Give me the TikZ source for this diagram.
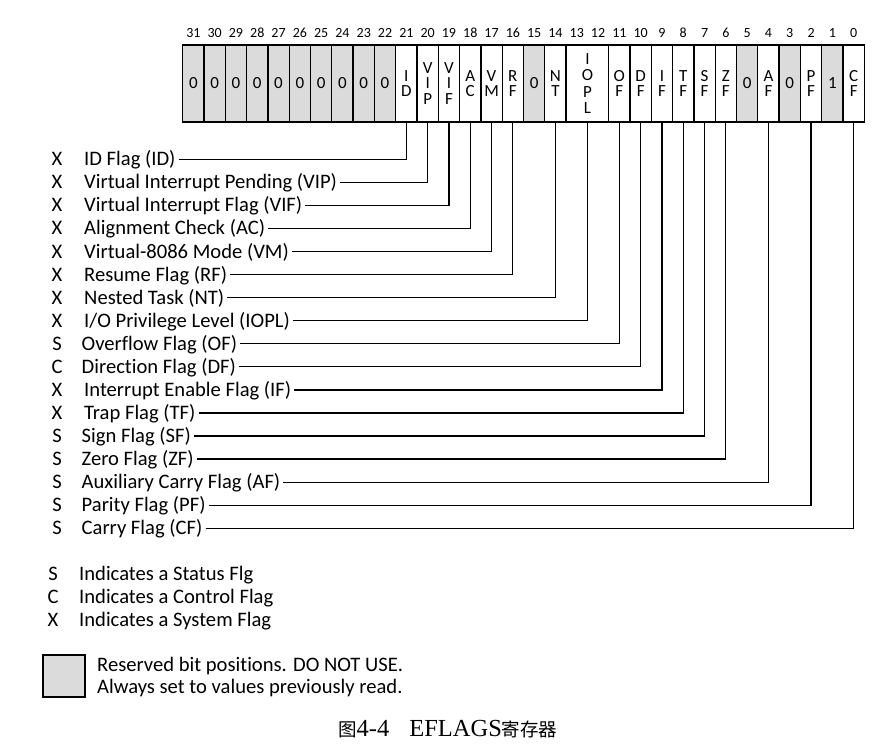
\documentclass[tikz,border=0pt]{standalone}
\usepackage{fontspec}
\setmainfont{Carlito}[Ligatures=NoCommon]
\newfontfamily\cjk{Noto Sans CJK SC}
\newfontfamily\capserif{Liberation Serif}
\begin{document}
\begin{tikzpicture}[x=1pt,y=-1pt,
  cell/.style={draw, line width=1.3pt, minimum width=21.3pt, minimum height=77pt, inner sep=0pt, align=center,
    font=\fontsize{17}{15.5}\selectfont},
  rsv/.style={cell, fill=black!14},
  bitno/.style={font=\fontsize{14}{16}\selectfont, inner sep=0pt, anchor=base},
  desc/.style={anchor=west, font=\fontsize{20.6}{22}\selectfont, inner xsep=3pt, inner ysep=0pt, text height=13pt, text depth=0pt},
  kind/.style={font=\fontsize{20.6}{22}\selectfont, inner sep=0pt, text height=13pt, text depth=0pt},
  conn/.style={line width=1.2pt},
]
\useasboundingbox (0,0) rectangle (878,744);
\def\bw{21.3}
\def\xl{182.7}
% bit numbers
\foreach \b in {0,...,31} {
  \node[bitno] (n\b) at ({\xl+(31-\b+0.5)*\bw}, 37.5) {\b};
}
% reserved cells 31..22
\foreach \b in {31,...,22} {
  \node[rsv] (c\b) at ({\xl+(31-\b+0.5)*\bw}, 83.5) {0};
}
% flag cells
\foreach \b/\t in {21/{I\\D},20/{V\\I\\P},19/{V\\I\\F},18/{A\\C},17/{V\\M},16/{R\\F},14/{N\\T},
  11/{O\\F},10/{D\\F},9/{I\\F},8/{T\\F},7/{S\\F},6/{Z\\F},4/{A\\F},2/{P\\F},0/{C\\F}} {
  \node[cell] (c\b) at ({\xl+(31-\b+0.5)*\bw}, 83.5) {\t};
}
\foreach \b/\t in {15/0,5/0,3/0,1/1} {
  \node[rsv] (c\b) at ({\xl+(31-\b+0.5)*\bw}, 83.5) {\t};
}
\node[cell, minimum width=42.6pt, font=\fontsize{17}{16.5}\selectfont] (iopl) at ({\xl+19*\bw}, 83.5) {I\\O\\P\\L};
% flag descriptions
\foreach \i/\k/\d/\c/\x in {
  0/X/{ID Flag (ID)}/c21/84,
  1/X/{Virtual Interrupt Pending (VIP)}/c20/84,
  2/X/{Virtual Interrupt Flag (VIF)}/c19/84,
  3/X/{Alignment Check (AC)}/c18/84,
  4/X/{Virtual-8086 Mode (VM)}/c17/84,
  5/X/{Resume Flag (RF)}/c16/84,
  6/X/{Nested Task (NT)}/c14/84,
  7/X/{I/O Privilege Level (IOPL)}/iopl/84,
  8/S/{Overflow Flag (OF)}/c11/81.5,
  9/C/{Direction Flag (DF)}/c10/81.5,
  10/X/{Interrupt Enable Flag (IF)}/c9/84,
  11/X/{Trap Flag (TF)}/c8/84,
  12/S/{Sign Flag (SF)}/c7/81.5,
  13/S/{Zero Flag (ZF)}/c6/81.5,
  14/S/{Auxiliary Carry Flag (AF)}/c4/81.5,
  15/S/{Parity Flag (PF)}/c2/81.5,
  16/S/{Carry Flag (CF)}/c0/81.5} {
  \node[kind] (k\i) at (57, {159.3+\i*23.06}) {\k};
  \node[desc, xshift=-3pt] (t\i) at (\x, {159.3+\i*23.06}) {\d};
  \draw[conn] (t\i.east) -| (\c.south);
}
% legend
\node[kind] (lk1) at (53, 574) {S};
\node[kind] (lk2) at (53, 597) {C};
\node[kind] (lk3) at (53, 620) {X};
\node[desc, xshift=-3pt] (lt1) at (79, 574) {Indicates a Status Flg};
\node[desc, xshift=-3pt] (lt2) at (79, 597) {Indicates a Control Flag};
\node[desc, xshift=-3pt] (lt3) at (79, 620) {Indicates a System Flag};
\node[draw, line width=1.3pt, fill=black!14, minimum width=42pt, minimum height=42pt, inner sep=0pt] (lbox) at (64, 676) {};
\node[desc, xshift=-3pt] (lr1) at (97, 665) {Reserved bit positions. DO NOT USE.};
\node[desc, xshift=-3pt] (lr2) at (97, 687) {Always set to values previously read.};
% caption
\node[anchor=west, inner sep=0pt] (cap) at (338, 729) {{\cjk\fontsize{18.5}{20}\selectfont 图}{\capserif\fontsize{24.5}{26}\selectfont 4-4\hspace{20pt}EFLAGS}{\cjk\fontsize{18.5}{20}\selectfont 寄存器}};
\end{tikzpicture}
\end{document}
